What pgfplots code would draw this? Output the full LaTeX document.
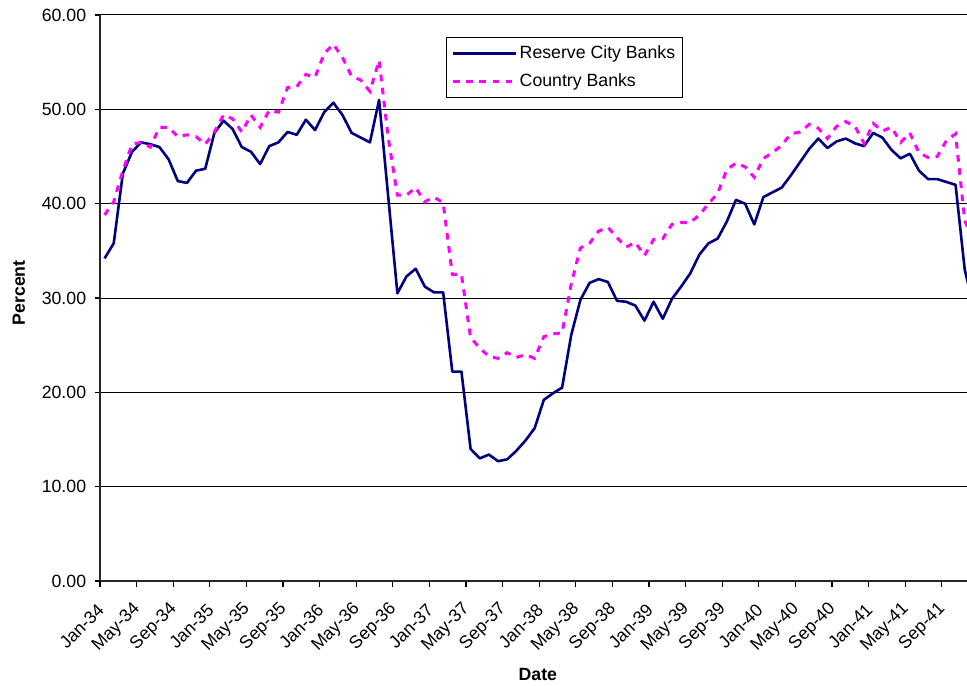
\documentclass[border=0pt]{standalone}
\usepackage{pgfplots}
\pgfplotsset{compat=1.18}
\usepackage{fontspec}
\setmainfont{Liberation Sans}
\definecolor{navyb}{RGB}{0,0,128}
\definecolor{magc}{RGB}{255,0,255}
\pgfplotstableread{
m r c
0 34.2 38.8
1 35.8 40.2
2 43.2 43.5
3 45.5 46.3
4 46.5 46.5
5 46.3 46.0
6 46.0 48.1
7 44.7 48.1
8 42.4 47.1
9 42.2 47.3
10 43.5 47.1
11 43.7 46.3
12 47.5 47.6
13 48.8 49.4
14 47.9 49.0
15 46.0 47.6
16 45.5 49.4
17 44.2 48.1
18 46.1 49.9
19 46.5 49.7
20 47.6 52.3
21 47.3 52.4
22 48.9 53.7
23 47.8 53.4
24 49.7 55.9
25 50.7 56.9
26 49.4 55.5
27 47.5 53.5
28 47.0 53.1
29 46.5 51.9
30 51.0 55.2
31 40.7 47.0
32 30.5 40.9
33 32.3 40.9
34 33.1 41.7
35 31.2 40.2
36 30.6 40.7
37 30.6 40.1
38 22.2 32.5
39 22.2 32.5
40 14.0 25.8
41 13.0 24.7
42 13.4 23.8
43 12.7 23.6
44 12.9 24.2
45 13.8 23.7
46 14.9 24.0
47 16.2 23.6
48 19.2 25.9
49 19.9 26.2
50 20.5 26.3
51 26.1 31.5
52 29.8 35.3
53 31.6 35.8
54 32.0 37.1
55 31.7 37.5
56 29.7 36.4
57 29.6 35.4
58 29.2 35.9
59 27.6 34.5
60 29.6 36.2
61 27.8 36.3
62 29.9 37.8
63 31.2 38.0
64 32.6 38.0
65 34.6 38.8
66 35.8 40.0
67 36.3 41.1
68 38.1 43.6
69 40.4 44.3
70 40.0 43.9
71 37.8 42.8
72 40.7 44.8
73 41.2 45.4
74 41.7 46.2
75 43.0 47.4
76 44.4 47.6
77 45.8 48.4
78 46.9 48.0
79 45.9 46.9
80 46.6 48.2
81 46.9 48.7
82 46.4 48.2
83 46.1 46.4
84 47.5 48.5
85 47.0 47.7
86 45.7 48.1
87 44.8 46.5
88 45.3 47.5
89 43.5 45.4
90 42.6 44.9
91 42.6 45.0
92 42.3 46.7
93 42.0 47.4
94 33.0 38.2
95 29.0 36.0
}\banks
\begin{document}
\fontsize{8.85}{10.6}\selectfont
\begin{tikzpicture}
\begin{axis}[
  scale only axis, width=433.5pt, height=283pt,
  xmin=-0.5, xmax=94.25, ymin=0, ymax=60,
  axis lines*=left,
  axis line style={black!85, line width=1pt},
  tick align=outside, major tick length=2.75pt,
  tick style={black, line width=0.6pt},
  ytick={0,10,...,60},
  /pgf/number format/fixed, /pgf/number format/fixed zerofill,
  /pgf/number format/precision=2, /pgf/number format/assume math mode=true,
  yticklabel style={inner sep=0pt, xshift=-4pt},
  ymajorgrids, grid style={black, line width=0.5pt},
  xtick={-0.5,3.5,...,91.5},
  xticklabels={Jan-34,May-34,Sep-34,Jan-35,May-35,Sep-35,Jan-36,May-36,Sep-36,Jan-37,May-37,Sep-37,Jan-38,May-38,Sep-38,Jan-39,May-39,Sep-39,Jan-40,May-40,Sep-40,Jan-41,May-41,Sep-41},
  xticklabel style={inner sep=0pt, yshift=-10pt, xshift=0.5pt, rotate=45, anchor=east},
  every axis y label/.style={at={(axis description cs:-0.0937,0.509)}, rotate=90, anchor=center},
  every axis x label/.style={at={(axis description cs:0.505,0)}, yshift=-46.5pt, anchor=center},
  ylabel={\bfseries Percent}, xlabel={\bfseries Date},
  legend style={at={(axis description cs:0.399,0.961)}, anchor=north west,
    draw=black, line width=0.6pt, inner xsep=2.5pt, inner ysep=3pt,
    nodes={inner sep=1.1pt, anchor=west}, row sep=4.2pt},
  legend cell align=left,
  legend image code/.code={\draw[#1] (0pt,0pt) -- (31.5pt,0pt);},
]
\addplot[navyb, line width=1.3pt, line join=round] table[x=m, y=r] {\banks};
\addlegendentry{Reserve City Banks}
\addplot[magc, line width=1.5pt, dash pattern=on 3.3pt off 3.3pt] table[x=m, y=c] {\banks};
\addlegendentry{Country Banks}
\end{axis}
\pgfresetboundingbox
\path (-50pt,-52pt) rectangle (433.5pt,290.5pt);
\end{tikzpicture}
\end{document}
